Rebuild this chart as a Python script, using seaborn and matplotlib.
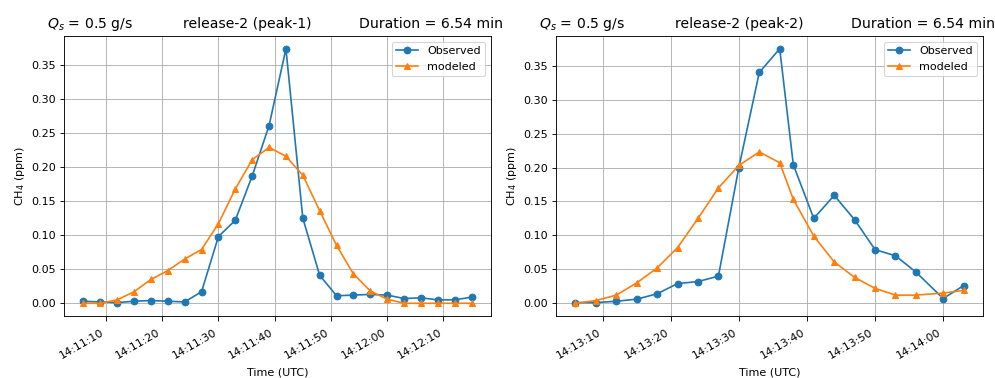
import matplotlib
matplotlib.use("Agg")
import matplotlib.pyplot as plt
import matplotlib.dates as mdates
import pandas as pd
import seaborn as sns

# peak-1
times_p1 = ["14:11:06", "14:11:09", "14:11:12", "14:11:15", "14:11:18", "14:11:21",
            "14:11:24", "14:11:27", "14:11:30", "14:11:33", "14:11:36", "14:11:39",
            "14:11:42", "14:11:45", "14:11:48", "14:11:51", "14:11:54", "14:11:57",
            "14:12:00", "14:12:03", "14:12:06", "14:12:09", "14:12:12", "14:12:15"]
obs_p1 = [0.003, 0.002, 0.001, 0.003, 0.004, 0.003, 0.002, 0.017, 0.098, 0.122, 0.187, 0.261,
          0.374, 0.125, 0.041, 0.011, 0.012, 0.013, 0.012, 0.007, 0.008, 0.005, 0.005, 0.009]
mod_p1 = [0.0, 0.0, 0.005, 0.017, 0.035, 0.048, 0.065, 0.079, 0.117, 0.168, 0.211, 0.229,
          0.216, 0.188, 0.136, 0.085, 0.043, 0.018, 0.006, 0.0, 0.0, 0.0, 0.0, 0.0]

# peak-2
times_p2 = ["14:13:06", "14:13:09", "14:13:12", "14:13:15", "14:13:18", "14:13:21",
            "14:13:24", "14:13:27", "14:13:30", "14:13:33", "14:13:36", "14:13:38",
            "14:13:41", "14:13:44", "14:13:47", "14:13:50", "14:13:53", "14:13:56",
            "14:14:00", "14:14:03"]
obs_p2 = [0.001, 0.001, 0.003, 0.006, 0.014, 0.029, 0.032, 0.040, 0.200, 0.340, 0.375, 0.204,
          0.125, 0.159, 0.123, 0.079, 0.070, 0.046, 0.007, 0.026]
mod_p2 = [0.0, 0.004, 0.012, 0.030, 0.052, 0.082, 0.125, 0.170, 0.203, 0.223, 0.207, 0.153,
          0.099, 0.061, 0.038, 0.022, 0.012, 0.012, 0.015, 0.019]

peaks = [("release-2 (peak-1)", times_p1, obs_p1, mod_p1),
         ("release-2 (peak-2)", times_p2, obs_p2, mod_p2)]

blue, orange = "#1f77b4", "#ff7f0e"

fig = plt.figure(figsize=(995 / 80, 378 / 80), dpi=80)
lefts = [64 / 995, 556 / 995]
w = 427 / 995

for left, (name, times, obs, mod) in zip(lefts, peaks):
    ax = fig.add_axes([left, 1 - 316 / 378, w, 280 / 378])
    t = pd.to_datetime(["2021-01-01 " + s for s in times])
    sns.lineplot(x=t, y=obs, ax=ax, marker="o", color=blue, label="Observed",
                 markeredgecolor=blue, markeredgewidth=1, linewidth=1.5, markersize=6)
    sns.lineplot(x=t, y=mod, ax=ax, marker="^", color=orange, label="modeled",
                 markeredgecolor=orange, markeredgewidth=1, linewidth=1.5, markersize=6)
    ax.grid(True, color="#b0b0b0", linewidth=0.8)
    ax.set_axisbelow(True)
    ax.legend(loc="upper right")
    ax.xaxis.set_major_locator(mdates.SecondLocator(bysecond=range(0, 60, 10)))
    ax.xaxis.set_major_formatter(mdates.DateFormatter("%H:%M:%S"))
    ax.tick_params(axis="x", length=4.5, pad=6)
    for lab in ax.get_xticklabels():
        lab.set_rotation(30)
        lab.set_ha("right")
    ax.set_xlabel("Time (UTC)", labelpad=6)
    ax.set_ylabel("CH$_4$ (ppm)")
    ax.text(-0.04, 1.03, "$Q_s$ = 0.5 g/s", transform=ax.transAxes, fontsize=12.6)
    ax.text(0.278, 1.03, name, transform=ax.transAxes, fontsize=12.6)
    ax.text(0.692, 1.03, "Duration = 6.54 min", transform=ax.transAxes, fontsize=12.6)

fig.savefig("out.png", dpi=80)
